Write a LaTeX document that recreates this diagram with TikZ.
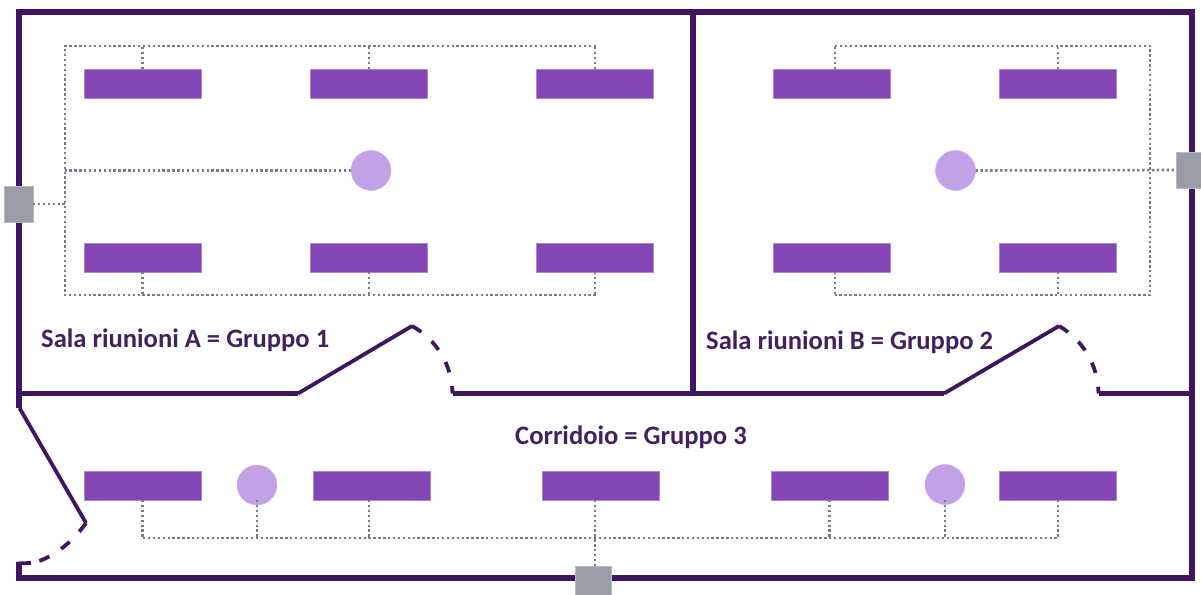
\documentclass[tikz,border=0pt]{standalone}
\usepackage{fontspec}
\setmainfont{Carlito}
\definecolor{wall}{HTML}{3F1560}
\definecolor{lamp}{HTML}{8445B5}
\definecolor{sensor}{HTML}{C3A1E6}
\definecolor{gate}{HTML}{9A9CA7}
\definecolor{wire}{HTML}{7A7A88}
\definecolor{labeltext}{HTML}{43215F}
\tikzset{
  wallline/.style={draw=wall,line width=5.4pt,line cap=butt,line join=miter},
  doorline/.style={draw=wall,line width=3.8pt,line cap=butt},
  swing/.style={draw=wall,line width=3.8pt,dash pattern=on 11pt off 14pt},
  wireline/.style={draw=wire,line width=2.6pt,dash pattern=on 2.4pt off 2.5pt},
  lampbox/.style={fill=lamp,draw=lamp!65!white,line width=.6pt,minimum width=117pt,minimum height=29pt,inner sep=0pt,outer sep=0pt},
  sensordot/.style={circle,fill=sensor,draw=sensor!80!white,line width=.5pt,minimum size=40pt,inner sep=0pt,outer sep=0pt},
  gatebox/.style={fill=gate,draw=gate!70!white,line width=.6pt,inner sep=0pt,outer sep=0pt},
  roomlabel/.style={text=labeltext,font=\bfseries\fontsize{26.6pt}{30pt}\selectfont,inner sep=0pt,anchor=base west}
}
\begin{document}
\begin{tikzpicture}[x=1pt,y=-1pt]
\useasboundingbox (0,0) rectangle (1201,594);
% walls
\coordinate (tl) at (19,12);
\coordinate (tr) at (1192,12);
\coordinate (br) at (1192,578);
\coordinate (bl) at (19,578);
\coordinate (hl) at (19,393.5);
\coordinate (hr) at (1192,393.5);
\coordinate (vt) at (693,12);
\coordinate (vb) at (693,393.5);
\coordinate (lend) at (19,408);
\coordinate (stub) at (19,562);
\coordinate (doorAa) at (298,393.5);
\coordinate (doorAb) at (412,326);
\coordinate (doorAc) at (452.5,393.5);
\coordinate (doorBa) at (944,393.5);
\coordinate (doorBb) at (1059,326);
\coordinate (doorBc) at (1098.5,393.5);
\coordinate (doorCa) at (19.5,408);
\coordinate (doorCb) at (86,523);
\coordinate (doorCc) at (31,563);
\draw[wallline] (lend) -- (tl) -- (tr) -- (br) -- (bl) -- (stub);
\draw[doorline] (17,563.5) -- (doorCc);
\draw[wallline] (hl) -- (doorAa);
\draw[wallline] (doorAc) -- (doorBa);
\draw[wallline] (doorBc) -- (hr);
\draw[wallline] (vt) -- (vb);
\draw[doorline] (doorAa) -- (doorAb);
\draw[doorline] (doorBa) -- (doorBb);
\draw[doorline] (doorCa) -- (doorCb);
\draw[swing] (doorAb) .. controls (437,340) and (452,365) .. (doorAc);
\draw[swing] (doorBb) .. controls (1083,340) and (1098,365) .. (doorBc);
\draw[swing] (doorCb) .. controls (72,543) and (50,560) .. (doorCc);
% lamps
\foreach \n/\x/\y in {a1/142.5/83.5,a2/369/83.5,a3/595/83.5,a4/142.5/257.5,a5/369/257.5,a6/595/257.5,
  b1/831.5/83.5,b2/1058/83.5,b3/831.5/257.5,b4/1058/257.5,
  c1/142.5/485.5,c2/371.5/485.5,c3/600.5/485.5,c4/829.5/485.5,c5/1058/485.5}
  \node[lampbox] (\n) at (\x,\y) {};
% sensors
\node[sensordot] (sa) at (371,170.5) {};
\node[sensordot] (sb) at (955.5,170.5) {};
\node[sensordot] (sc) at (257,485) {};
\node[sensordot] (sd) at (945,484.5) {};
% gateways
\node[gatebox,minimum width=29pt,minimum height=36pt] (ga) at (18.5,204) {};
\node[gatebox,minimum width=27pt,minimum height=36pt,anchor=west] (gb) at (1176,170) {};
\node[gatebox,minimum width=36pt,minimum height=30pt,anchor=north] (gc) at (593.5,566) {};
% wiring
\coordinate (a-tl) at (65,46);
\coordinate (a-tr) at (596,46);
\coordinate (a-bl) at (65,295);
\coordinate (a-br) at (596,295);
\coordinate (b-tl) at (835,46);
\coordinate (b-tr) at (1150,46);
\coordinate (b-bl) at (835,295);
\coordinate (b-br) at (1150,295);
\coordinate (c-l) at (143,538);
\coordinate (c-r) at (1058,538);
\draw[wireline] (a-tr) -- (a-tl) -- (a-bl) -- (a-br);
\draw[wireline] (a1.north) -- (a1.north |- a-tl);
\draw[wireline] (a2.north) -- (a2.north |- a-tl);
\draw[wireline] (a3.north) -- (a3.north |- a-tl);
\draw[wireline] (a4.south) -- (a4.south |- a-bl);
\draw[wireline] (a5.south) -- (a5.south |- a-bl);
\draw[wireline] (a6.south) -- (a6.south |- a-bl);
\draw[wireline] (sa.west) -- (sa.west -| a-tl);
\draw[wireline] (ga.east) -- (ga.east -| a-tl);
\draw[wireline] (b-tl) -- (b-tr) -- (b-br) -- (b-bl);
\draw[wireline] (835,69) -- (b-tl);
\draw[wireline] (b2.north) -- (b2.north |- b-tl);
\draw[wireline] (835,272) -- (b-bl);
\draw[wireline] (b4.south) -- (b4.south |- b-bl);
\draw[wireline] (sb.east) -- (gb.west);
\draw[wireline] (c-l) -- (c-r);
\draw[wireline] (c1.south) -- (c1.south |- c-l);
\draw[wireline] (369,500) -- (369,538);
\draw[wireline] (595,500) -- (595,566);
\draw[wireline] (c4.south) -- (c4.south |- c-l);
\draw[wireline] (c5.south) -- (c5.south |- c-l);
\draw[wireline] (257,500) -- (sc.center |- c-l);
\draw[wireline] (945,500) -- (sd.center |- c-l);
% labels
\node[roomlabel] (la) at (41,347) {Sala riunioni A = Gruppo 1};
\node[roomlabel] (lb) at (706,349) {Sala riunioni B = Gruppo 2};
\node[roomlabel] (lc) at (515,444) {Corridoio = Gruppo 3};
\end{tikzpicture}
\end{document}
